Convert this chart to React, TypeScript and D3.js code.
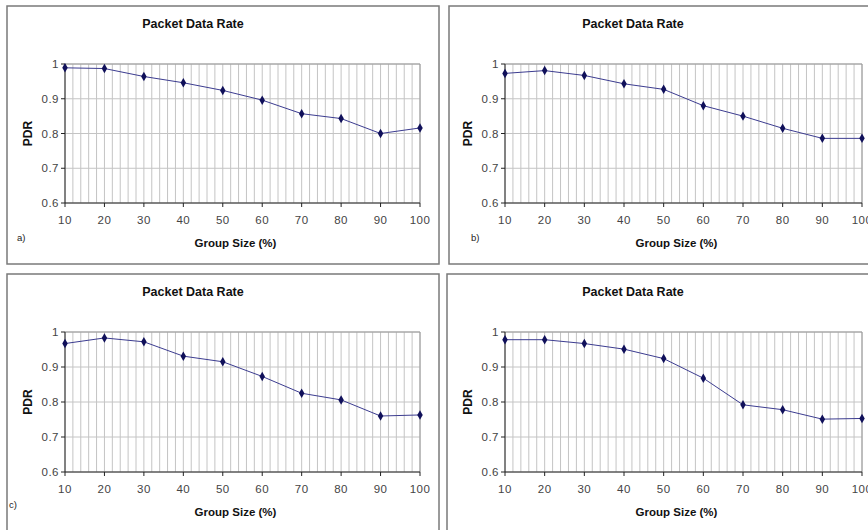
import React from "react";
import * as d3 from "d3";

const groupSizes = [10, 20, 30, 40, 50, 60, 70, 80, 90, 100];
const pdrA = [0.989, 0.987, 0.964, 0.946, 0.924, 0.896, 0.857, 0.843, 0.8, 0.816];
const pdrB = [0.973, 0.981, 0.967, 0.943, 0.927, 0.88, 0.85, 0.815, 0.786, 0.786];
const pdrC = [0.967, 0.983, 0.972, 0.931, 0.915, 0.873, 0.825, 0.806, 0.76, 0.763];
const pdrD = [0.978, 0.978, 0.967, 0.951, 0.924, 0.868, 0.792, 0.778, 0.751, 0.753];
const yTicks = [0.6, 0.7, 0.8, 0.9, 1];
const yTickLabels = ["0.6", "0.7", "0.8", "0.9", "1"];
const panelLabels = ["a)", "b)", "c)", ""];
const chartTitle = "Packet Data Rate";
const xTitle = "Group Size (%)";
const yTitle = "PDR";

type Layout = {
  bx: number; by: number; bw: number; bh: number;
  pl: number; pr: number; pt: number; pb: number;
  lx: number; ly: number;
};

const layouts: Layout[] = [
  { bx: 7, by: 6, bw: 432, bh: 258, pl: 65, pr: 420, pt: 64, pb: 203, lx: 17, ly: 241 },
  { bx: 449, by: 6, bw: 432, bh: 258, pl: 505, pr: 862, pt: 64, pb: 203, lx: 471, ly: 241 },
  { bx: 7, by: 274, bw: 432, bh: 270, pl: 65, pr: 420, pt: 332, pb: 472, lx: 9, ly: 508 },
  { bx: 447, by: 274, bw: 432, bh: 270, pl: 505, pr: 862, pt: 332, pb: 472, lx: 0, ly: 0 },
];

const series = [pdrA, pdrB, pdrC, pdrD];
const FONT = "Arial, 'Liberation Sans', Helvetica, sans-serif";

function Panel({ L, data, label }: { L: Layout; data: number[]; label: string }) {
  const x = d3.scaleLinear().domain([10, 100]).range([L.pl, L.pr]);
  const y = d3.scaleLinear().domain([0.6, 1]).range([L.pb, L.pt]);
  const minor = d3.range(10, 100.001, 2);
  const line = d3
    .line<number>()
    .x((_, i) => x(groupSizes[i]))
    .y((v) => y(v));
  const diamond = d3.symbol().type(d3.symbolDiamond).size(26)();
  const cx = (L.pl + L.pr) / 2;
  return (
    <g>
      <rect x={L.bx} y={L.by} width={L.bw} height={L.bh} fill="#fff" stroke="#7a7a7a" strokeWidth={1.5} />
      <text x={L.pl + 128} y={L.pt - 36} fontFamily={FONT} fontWeight="bold" fontSize={12.5} fill="#111" textAnchor="middle">
        {chartTitle}
      </text>
      {minor.map((v) => (
        <line key={"v" + v} x1={x(v)} x2={x(v)} y1={L.pt} y2={L.pb} stroke="#c4c4c4" strokeWidth={1} />
      ))}
      {yTicks.map((v) => (
        <line key={"h" + v} x1={L.pl} x2={L.pr} y1={y(v)} y2={y(v)} stroke="#c4c4c4" strokeWidth={1} />
      ))}
      <line x1={L.pl} x2={L.pr} y1={L.pt} y2={L.pt} stroke="#9a9a9a" />
      <line x1={L.pr} x2={L.pr} y1={L.pt} y2={L.pb} stroke="#9a9a9a" />
      <line x1={L.pl} x2={L.pl} y1={L.pt} y2={L.pb} stroke="#222" />
      <line x1={L.pl} x2={L.pr} y1={L.pb} y2={L.pb} stroke="#222" />
      {yTicks.map((v, i) => (
        <g key={"yt" + v}>
          <line x1={L.pl - 4} x2={L.pl} y1={y(v)} y2={y(v)} stroke="#222" />
          <text x={L.pl - 6} y={y(v) + 4} fontFamily={FONT} fontSize={11.5} letterSpacing={0.5} fill="#444" textAnchor="end">
            {yTickLabels[i]}
          </text>
        </g>
      ))}
      {groupSizes.map((v) => (
        <g key={"xt" + v}>
          <line x1={x(v)} x2={x(v)} y1={L.pb} y2={L.pb + 4} stroke="#222" />
          <text x={x(v)} y={L.pb + 21} fontFamily={FONT} fontSize={11.5} letterSpacing={0.5} fill="#444" textAnchor="middle">
            {v}
          </text>
        </g>
      ))}
      <text x={cx - 7} y={L.pb + 44} fontFamily={FONT} fontWeight="bold" fontSize={11.5} fill="#111" textAnchor="middle">
        {xTitle}
      </text>
      <text
        transform={`translate(${L.pl - 33},${(L.pt + L.pb) / 2}) rotate(-90)`}
        fontFamily={FONT}
        fontWeight="bold"
        fontSize={12}
        fill="#111"
        textAnchor="middle"
      >
        {yTitle}
      </text>
      {label && (
        <text x={L.lx} y={L.ly} fontFamily={FONT} fontSize={9.5} fill="#222">
          {label}
        </text>
      )}
      <path d={line(data) || ""} fill="none" stroke="#3c3c90" strokeWidth={1} />
      {data.map((v, i) => (
        <path key={"m" + i} d={diamond || ""} transform={`translate(${x(groupSizes[i])},${y(v)})`} fill="#10105a" />
      ))}
    </g>
  );
}

export default function App() {
  return (
    <svg width={868} height={530} style={{ position: "absolute", left: 0, top: 0, background: "#fff" }}>
      <rect x={0} y={0} width={868} height={530} fill="#fff" />
      {layouts.map((L, i) => (
        <Panel key={i} L={L} data={series[i]} label={panelLabels[i]} />
      ))}
    </svg>
  );
}
